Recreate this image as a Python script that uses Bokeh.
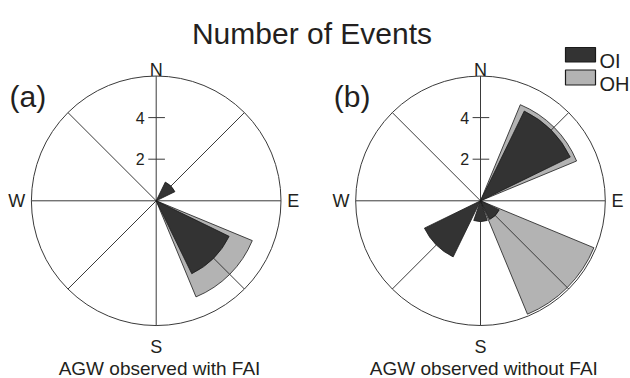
import numpy as np
from bokeh.plotting import figure
from bokeh.models import Range1d, Label
from bokeh.embed import file_html
from bokeh.resources import INLINE

# ---------------- data ----------------
directions = ["N", "NE", "E", "SE", "S", "SW", "W", "NW"]
bearings = [0, 45, 90, 135, 180, 225, 270, 315]
oi_a = [0, 1, 0, 3.9, 0, 0, 0, 0]
oh_a = [0, 0, 0, 5, 0, 0, 0, 0]
oi_b = [0, 4.8, 0, 1, 1, 3, 0, 0]
oh_b = [0, 5, 0, 5.9, 0, 0, 0, 0]
radial_ticks = [2, 4]
r_max = 6
compass = ["N", "E", "S", "W"]
panel_labels = ["(a)", "(b)"]
subtitles = ["AGW observed with FAI", "AGW observed without FAI"]
series = ["OI", "OH"]
title = "Number of Events"

# ---------------- layout ----------------
S = 20.8            # px per unit
W, H = 630, 378
OX, OY = 0, 0
CA = (155.7, 200.3)  # page coords of panel centres
CB = (480.0, 200.3)
FONT = "Liberation Sans"
TXT = "#231f20"
OI_FILL = "#333333"
OH_FILL = "#b3b3b3"
EDGE = "#1a1a1a"
GRID = "#3a3a3a"
OI_W = 38
OH_W = 45


def dx(px):
    return (px - CA[0]) / S


def dy(py):
    return (CA[1] - py) / S


p = figure(width=W, height=H, output_backend="svg", toolbar_location=None,
           x_range=Range1d(dx(OX), dx(OX + W)), y_range=Range1d(dy(OY + H), dy(OY)),
           min_border=0)
p.axis.visible = False
p.grid.visible = False
p.outline_line_color = None
p.background_fill_color = "white"
p.border_fill_color = "white"

centres = [(0.0, 0.0), (dx(CB[0]), 0.0)]
panels = [(oi_a, oh_a), (oi_b, oh_b)]


def wedges(cx, cy, vals, width, fill):
    xs, ys, rs, st, en = [], [], [], [], []
    for b, v in zip(bearings, vals):
        if v > 0:
            xs.append(cx); ys.append(cy); rs.append(v)
            st.append(np.radians(90 - b - width / 2))
            en.append(np.radians(90 - b + width / 2))
    if xs:
        p.wedge(x=xs, y=ys, radius=rs, start_angle=st, end_angle=en,
                fill_color=fill, line_color=EDGE, line_width=0.8)


for (cx, cy), (oi, oh) in zip(centres, panels):
    # outer circle
    p.circle(x=[cx], y=[cy], radius=r_max, fill_color="white",
             line_color=GRID, line_width=1)
    wedges(cx, cy, oh, OH_W, OH_FILL)
    # spokes
    ang = np.radians([90 - b for b in bearings[:4]])
    p.segment(x0=cx - r_max * np.cos(ang), y0=cy - r_max * np.sin(ang),
              x1=cx + r_max * np.cos(ang), y1=cy + r_max * np.sin(ang),
              line_color=GRID, line_width=1)
    wedges(cx, cy, oi, OI_W, OI_FILL)
    # radial ticks
    p.segment(x0=[cx - 0.38] * len(radial_ticks), y0=[cy + t for t in radial_ticks],
              x1=[cx + 0.42] * len(radial_ticks), y1=[cy + t for t in radial_ticks],
              line_color=GRID, line_width=1)
    for t in radial_ticks:
        p.add_layout(Label(x=cx - 0.55, y=cy + t, text=str(t), text_align="right",
                           text_baseline="middle", text_font=FONT,
                           text_font_size="16px", text_color=TXT))
    # compass letters
    off = 0.3
    p.add_layout(Label(x=cx, y=cy + r_max + off, text=compass[0], text_align="center",
                       text_baseline="alphabetic", text_font=FONT,
                       text_font_size="18px", text_color=TXT))
    p.add_layout(Label(x=cx, y=cy - r_max - 1.05, text=compass[2], text_align="center",
                       text_baseline="alphabetic", text_font=FONT,
                       text_font_size="18px", text_color=TXT))
    p.add_layout(Label(x=cx + r_max + off, y=cy, text=compass[1], text_align="left",
                       text_baseline="middle", text_font=FONT,
                       text_font_size="18px", text_color=TXT))
    p.add_layout(Label(x=cx - r_max - off, y=cy, text=compass[3], text_align="right",
                       text_baseline="middle", text_font=FONT,
                       text_font_size="18px", text_color=TXT))

# panel letters
for (cx, cy), lab in zip(centres, panel_labels):
    p.add_layout(Label(x=cx + dx(9), y=dy(95.5), text=lab, text_align="left",
                       text_baseline="alphabetic", text_font=FONT,
                       text_font_size="30px", text_color=TXT))

# subtitles
for (cx, cy), lab in zip(centres, subtitles):
    p.add_layout(Label(x=cx + dx(159), y=dy(367.5), text=lab, text_align="center",
                       text_baseline="alphabetic", text_font=FONT,
                       text_font_size="19px", text_color=TXT))

# title
p.add_layout(Label(x=dx(311.5), y=dy(33), text=title, text_align="center",
                   text_baseline="alphabetic", text_font=FONT,
                   text_font_size="30px", text_color=TXT))

# legend
box_tops = [47, 69.5]
box_bots = [61.5, 84.5]
p.quad(left=[dx(565)] * 2, right=[dx(595)] * 2,
       top=[dy(t) for t in box_tops], bottom=[dy(b) for b in box_bots],
       fill_color=[OI_FILL, OH_FILL], line_color=EDGE, line_width=1.2)
for lab, b in zip(series, box_bots):
    p.add_layout(Label(x=dx(599), y=dy(b - 1), text=lab, text_align="left",
                       text_baseline="alphabetic", text_font=FONT,
                       text_font_size="20px", text_color=TXT))

open("out.html", "w").write(file_html(p, INLINE))
